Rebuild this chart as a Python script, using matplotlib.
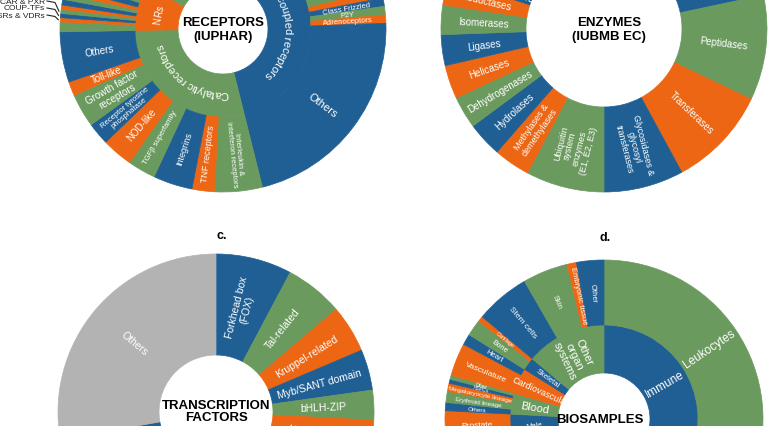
import matplotlib
matplotlib.use('Agg')
import numpy as np
import matplotlib.pyplot as plt
from matplotlib.font_manager import FontProperties
from matplotlib.textpath import TextToPath

plt.rcParams['font.family'] = ['Liberation Sans', 'DejaVu Sans']

COL = {'b': '#1f5f94', 'o': '#ec6613', 'g': '#6b9a5f', 'k': '#b3b3b3'}

# a. receptors (IUPHAR) - arc shares in degrees, clockwise
rec_groups = ['G protein-coupled receptors', 'Catalytic receptors', 'NRs', 'Ion channels']
rec_group_vals = [181, 103, 31, 45]
rec_group_cols = 'bgog'
rec_leaves = ['Chemokine', 'Class B', 'Opioid', '5-HT', 'Dopamine', 'Histamine',
              'Class A orphans', 'Class Frizzled', 'P2Y', 'Adrenoceptors', 'Others',
              'Interleukin &\ninterferon receptors', 'TNF receptors', 'Integrins',
              'TGF\u03b2 superfamily', 'NOD-like', 'Receptor tyrosine\nphosphatase',
              'Growth factor\nreceptors', 'Toll-like', 'Others ',
              'RARs & RXRs', 'SRs & VDRs', 'COUP-TFs', 'CAR & PXR', 'HNF4', 'PPARs',
              'LXRs & FXRs', 'RORs', 'TRs', 'ERRs', 'Rev-Erbs', 'Other NRs',
              'Voltage-gated', 'Ligand-gated']
rec_leaf_vals = [24, 18, 16, 13, 11, 9, 3, 3, 3, 3, 78,
                 17, 8, 14, 10, 11, 8, 12, 5, 18,
                 3.5, 1.5, 1.5, 1.5, 1.5, 2, 2, 2, 3, 3, 3, 6.5,
                 25, 20]
rec_leaf_sizes = {'Class Frizzled': 5.5, 'P2Y': 5.5, 'Adrenoceptors': 5.5, 'Others': 8,
                  'Interleukin &\ninterferon receptors': 5.5, 'TNF receptors': 6.5,
                  'Integrins': 6.5, 'TGF\u03b2 superfamily': 5.5, 'NOD-like': 7,
                  'Receptor tyrosine\nphosphatase': 5.5, 'Growth factor\nreceptors': 7,
                  'Toll-like': 7, 'Others ': 7}
nr_callouts = ['SRs & VDRs', 'COUP-TFs', 'CAR & PXR']

# b. enzymes (IUBMB EC)
enz_names = ['Kinases', 'Peptidases', 'Transferases', 'Glycosidases &\nglycosyl\ntransferases',
             'Ubiquitin\nsystem\nenzymes\n(E1, E2, E3)', 'Methylases &\ndemethylases',
             'Hydrolases', 'Dehydrogenases', 'Helicases', 'Ligases', 'Isomerases',
             'Reductases', 'Oxidoreductases', 'Phosphatases', 'Lipases', 'Deaminases',
             'Proteasome', 'Deubiquitinases', 'Phosphodiesterases', 'Others']
enz_vals = [78, 37.5, 36, 28.5, 28, 13, 12.5, 11.5, 12, 11, 10.5, 9.5,
            9.5, 9, 9, 9, 9, 9, 9, 8.5]

# c. transcription factors
tf_names = ['Forkhead box\n(FOX)', 'Tal-related', 'Kruppel-related', 'Myb/SANT domain',
            'bHLH-ZIP', 'Homeodomain', 'C2H2 ZF', 'Nuclear receptors', 'bZIP', 'HMG',
            'Ets', 'T-box', 'Sox', 'GATA', 'Paired box', 'IRF', 'RFX', 'SMAD', 'STAT',
            'Others']
tf_vals = [28, 21.5, 17.5, 15, 11, 20, 18, 16, 15, 14, 13, 12, 11, 10, 9, 8, 7, 7, 7, 100]

# d. biosamples
bio_groups = ['Immune', 'Nervous', 'Digestive', 'Respiratory', 'Female\nreproductive',
              'Male\nreproductive', 'Blood', 'Cardiovascular', 'Skeletal',
              'Other\norgan\nsystems']
bio_group_vals = [120, 40, 35, 30, 25, 23, 13, 16, 8, 50]
bio_group_cols = 'bgogobgobg'
bio_leaves = ['Leukocytes', 'Lymphoid organs', 'Brain', 'Spinal cord', 'Liver', 'Intestine',
              'Stomach', 'Lung', 'Airway', 'Ovary', 'Uterus', 'Breast', 'Testis', 'Prostate',
              'Others', 'Erythroid lineage', 'Megakaryocyte lineage', 'HSPCs', 'Other ',
              'Vasculature', 'Heart', 'Bone', 'Cartilage', 'Stem cells', 'Skin',
              'Embryonic tissue', 'Other']
bio_leaf_vals = [112, 8, 28, 12, 15, 12, 8, 22, 8, 10, 9, 6, 12, 11,
                 3, 4, 3, 1.5, 1.5, 12, 4, 6, 2, 20, 16.5, 3.5, 10]
bio_leaf_cols = 'gobgobgobgobgobgobgobgobgob'

W, H = 768, 427
ttp = TextToPath()


def draw_ring(ax, c, r_out, r_in, vals, cols, start=90):
    wedges, _ = ax.pie(vals, radius=r_out, center=c, startangle=start,
                       counterclock=False, colors=[COL[k] for k in cols],
                       wedgeprops=dict(width=r_out - r_in, linewidth=0.5),
                       frame=True)
    for w in wedges:
        w.set_edgecolor(w.get_facecolor())
    v = np.asarray(vals, float)
    ends = np.cumsum(v) / v.sum() * 360
    return start - (ends - v / v.sum() * 180)


def radial_label(ax, c, r, theta, s, size, color='white'):
    t = (theta + 180) % 360 - 180
    rot = t if -90 <= t <= 90 else t + 180
    x = c[0] + r * np.cos(np.deg2rad(t))
    y = c[1] + r * np.sin(np.deg2rad(t))
    if not (-30 < x < W + 30 and -30 < y < H + 30):
        return
    ax.text(x, y, s, rotation=rot, rotation_mode='anchor', ha='center', va='center',
            fontsize=size, color=color, linespacing=1.05, multialignment='center')


def arc_text(ax, c, r, theta_mid, s, size, color='white'):
    # clockwise text along an arc, letter tops pointing outwards
    prop = FontProperties(family='Liberation Sans', size=size)
    bar = ttp.get_text_width_height_descent('|', prop, ismath=False)[0]
    pos = [0.0]
    for i in range(1, len(s) + 1):
        w = ttp.get_text_width_height_descent(s[:i] + '|', prop, ismath=False)[0] - bar
        pos.append(w * 100 / 72)
    pos = np.array(pos)
    span = pos[-1] / r
    for i, ch in enumerate(s):
        a = np.deg2rad(theta_mid) + span / 2 - (pos[i] + pos[i + 1]) / 2 / r
        x, y = c[0] + r * np.cos(a), c[1] + r * np.sin(a)
        if ch == ' ' or y > H + 3:
            continue
        ax.text(x, y, ch, rotation=np.rad2deg(a) - 90, rotation_mode='anchor',
                ha='center', va='center', fontsize=size, color=color)


fig = plt.figure(figsize=(7.68, 4.27), dpi=100)
ax = fig.add_axes([0, 0, 1, 1])

# ---- a. receptors
ca = (223, 397)
draw_ring(ax, ca, 88, 45, rec_group_vals, rec_group_cols, start=105)
leaf_cols = ''.join('gob'[(i + 1) % 3] for i in range(len(rec_leaves)))
mids = draw_ring(ax, ca, 163, 88, rec_leaf_vals, leaf_cols, start=105)
for name, th in zip(rec_leaves, mids):
    if name in rec_leaf_sizes:
        radial_label(ax, ca, 125, th, name.strip(), rec_leaf_sizes[name])
arc_text(ax, ca, 64, 14, 'G protein-coupled receptors', 8)
arc_text(ax, ca, 64, -126, 'Catalytic receptors', 8)
arc_text(ax, ca, 66, 167, 'NRs', 7)
for k, name in enumerate(nr_callouts):
    th = np.deg2rad(mids[rec_leaves.index(name)])
    ex, ey = ca[0] + 163 * np.cos(th), ca[1] + 163 * np.sin(th)
    ly = 411 + 7 * k
    ax.text(45, ly, name, ha='right', va='center', fontsize=6, color='#222222')
    ax.plot([47, 55, ex - 2], [ly, ly - 1.5, ey], color='#222222', lw=0.8)
ax.text(ca[0], ca[1], 'RECEPTORS\n(IUPHAR)', ha='center', va='center',
        fontsize=9.5, fontweight='bold', linespacing=1.15)

# ---- b. enzymes
cb = (604, 397)
enz_cols = ''.join('bgo'[i % 3] for i in range(len(enz_names)))
mids = draw_ring(ax, cb, 163, 78, enz_vals, enz_cols, start=90)
for name, th in zip(enz_names, mids):
    size = 6.5 if '\n' in name else 7
    radial_label(ax, cb, 108 if name == 'Oxidoreductases' else 121, th, name, size)
ax.text(cb[0] + 5, cb[1], 'ENZYMES\n(IUBMB EC)', ha='center', va='center',
        fontsize=9.5, fontweight='bold', linespacing=1.15)

# ---- c. transcription factors
cc = (216, 14)
tf_cols = ''.join('bgo'[i % 3] for i in range(len(tf_names) - 1)) + 'k'
mids = draw_ring(ax, cc, 158, 57, tf_vals, tf_cols, start=90)
for name, th in zip(tf_names, mids):
    radial_label(ax, cc, 107, th, name, 7.5)
ax.text(cc[0], cc[1] + 1, 'TRANSCRIPTION\nFACTORS', ha='center', va='center',
        fontsize=9.5, fontweight='bold', linespacing=1.1)
ax.text(222, 191, 'c.', ha='center', va='center', fontsize=9, fontweight='bold')

# ---- d. biosamples
cd = (604, 7)
mids_in = draw_ring(ax, cd, 94, 46, bio_group_vals, bio_group_cols, start=90)
mids_out = draw_ring(ax, cd, 159, 94, bio_leaf_vals, bio_leaf_cols, start=90)
in_sizes = {'Immune': 8.5, 'Other\norgan\nsystems': 8, 'Blood': 8, 'Cardiovascular': 6.5,
            'Skeletal': 5.5, 'Male\nreproductive': 5.5}
for name, th in zip(bio_groups, mids_in):
    radial_label(ax, cd, 70, th, name, in_sizes.get(name, 7))
out_sizes = {'Leukocytes': 8.5, 'Stem cells': 6, 'Skin': 5.5, 'Embryonic tissue': 5.5,
             'Other': 5.5, 'Vasculature': 6, 'Heart': 5.5, 'Bone': 5.5, 'Cartilage': 4,
             'HSPCs': 3.5, 'Other ': 3.5, 'Megakaryocyte lineage': 4.5,
             'Erythroid lineage': 4.5, 'Others': 4.5, 'Prostate': 6}
for name, th in zip(bio_leaves, mids_out):
    radial_label(ax, cd, 127, th, name.strip(), out_sizes.get(name, 7))
ax.text(cd[0] - 4, cd[1], 'BIOSAMPLES', ha='center', va='center',
        fontsize=9.5, fontweight='bold')
ax.text(605, 189, 'd.', ha='center', va='center', fontsize=9, fontweight='bold')

ax.set_xlim(0, W)
ax.set_ylim(0, H)
ax.set_aspect('equal')
ax.axis('off')
fig.savefig('out.png', dpi=100, facecolor='white')
